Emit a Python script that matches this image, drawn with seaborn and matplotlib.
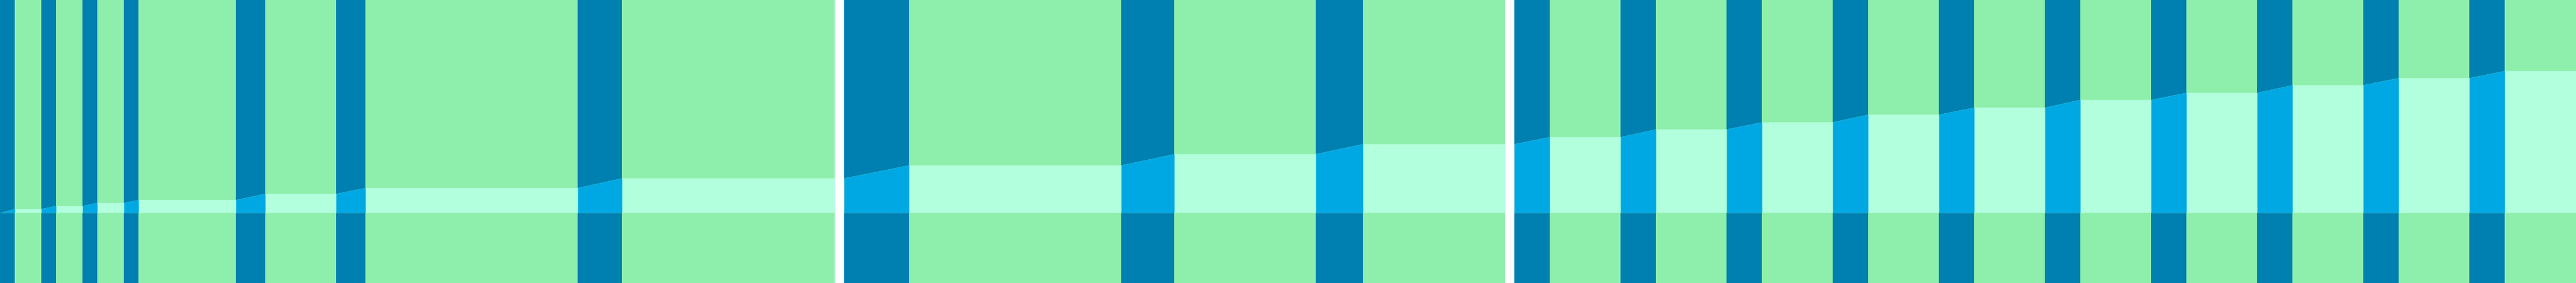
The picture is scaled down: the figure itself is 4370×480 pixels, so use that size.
import matplotlib
matplotlib.use("Agg")
import matplotlib.pyplot as plt
import seaborn as sns

# Dane: okresy aktywne (pasy) i skumulowany poziom po kazdym z nich
panel_limits = [(0, 1416), (1432, 2553), (2569, 4370)]

p1_start = [0, 70, 140, 210, 400, 570, 980]
p1_end = [25, 95, 165, 235, 450, 620, 1055]
p1_level = [6.7, 11.7, 17.0, 22.0, 32.4, 42.4, 58.7]

p2_start = [1432, 1902, 2232]
p2_end = [1542, 1992, 2312]
p2_level = [80.7, 99.7, 116.7]

p3_start = [2569, 2749, 2929, 3109, 3289, 3469, 3649, 3829, 4009, 4189]
p3_end = [2629, 2809, 2989, 3169, 3349, 3529, 3709, 3889, 4069, 4249]
p3_level = [128.7, 141.7, 153.7, 166.7, 178.7, 191.7, 203.7, 216.7, 228.7, 240.7]

y_range = (-119.3, 360.7)

GREEN = "#8eeeab"
DARK_BLUE = "#0080b0"
MINT = "#b2ffdd"
BRIGHT_BLUE = "#00a8e3"

sns.set_style("white")

fig, axes = plt.subplots(1, 3, figsize=(43.7, 4.8), dpi=100,
                         gridspec_kw={"width_ratios": [b - a for a, b in panel_limits]})
fig.subplots_adjust(left=0, right=1, top=1, bottom=0, wspace=16 / 1446)
fig.patch.set_facecolor("white")

panels = [(p1_start, p1_end, p1_level),
          (p2_start, p2_end, p2_level),
          (p3_start, p3_end, p3_level)]

level = 0.0
for ax, (x0, x1), (starts, ends, levels) in zip(axes, panel_limits, panels):
    ax.set_facecolor(GREEN)

    # Krzywa skumulowana: plasko na zielonym, rosnie na niebieskich pasach
    xs, ys = [x0], [level]
    for s, e, lv in zip(starts, ends, levels):
        ax.axvspan(s, e, color=DARK_BLUE, lw=0, zorder=1)
        xs += [s, e]
        ys += [level, lv]
        ax.fill_between([s, e], 0, [level, lv], color=BRIGHT_BLUE, lw=0, zorder=3)
        level = lv
    xs.append(x1)
    ys.append(level)
    ax.fill_between(xs, 0, ys, color=MINT, lw=0, zorder=2)

    ax.set_xlim(x0, x1)
    ax.set_ylim(*y_range)
    ax.set_xticks([])
    ax.set_yticks([])
    sns.despine(ax=ax, left=True, bottom=True)

plt.savefig("out.png", dpi=100, facecolor="white")
